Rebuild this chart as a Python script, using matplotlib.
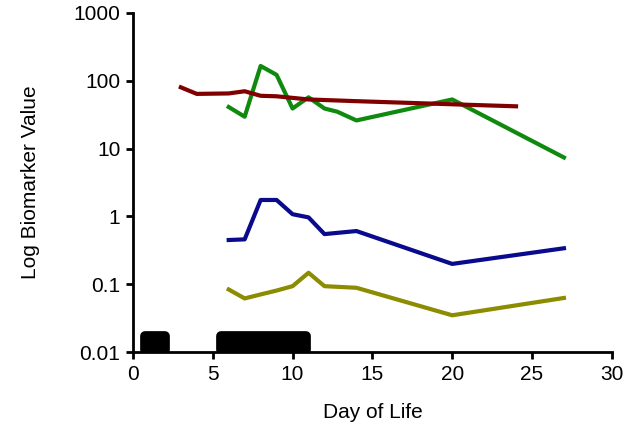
import matplotlib
matplotlib.use("Agg")
import matplotlib.pyplot as plt
import numpy as np

plt.rcParams['font.family'] = ['Liberation Sans', 'DejaVu Sans']

# biomarker series (day of life, value)
red_days = [3, 4, 6, 7, 8, 9, 11, 14, 20, 24]
red_vals = [80, 64, 65, 70, 60, 59, 53, 50, 45, 42]

green_days = [6, 7, 8, 9, 10, 11, 12, 12.8, 14, 20, 27]
green_vals = [41, 29.5, 165, 122, 39, 57, 39, 35, 26, 53, 7.4]

blue_days = [6, 7, 8, 9, 10, 11, 12, 14, 20, 27]
blue_vals = [0.45, 0.46, 1.75, 1.75, 1.08, 0.97, 0.55, 0.61, 0.20, 0.34]

olive_days = [6, 7, 8, 9, 10, 11, 12, 14, 20, 27]
olive_vals = [0.084, 0.062, 0.071, 0.081, 0.094, 0.148, 0.094, 0.089, 0.035, 0.063]

# treatment periods (start day, duration)
treat_periods = [(0.75, 1.25), (5.5, 5.35)]

fig = plt.figure(figsize=(6.36, 4.29), dpi=100)
ax = fig.add_axes([0.209, 0.179, 0.753, 0.791])

lw = 3.0
ax.plot(olive_days, olive_vals, '-', c='#8c8c00', lw=lw)
ax.plot(blue_days, blue_vals, '-', c='#0a0a8c', lw=lw)
ax.plot(green_days, green_vals, '-', c='#0f8a0f', lw=lw)
ax.plot(red_days, red_vals, '-', c='#800000', lw=lw)

ax.broken_barh(treat_periods, (0.0108, 0.0068), facecolor='black',
               edgecolor='black', linewidth=7, joinstyle='round')

ax.set_yscale('log')
ax.set_xlim(0, 30)
ax.set_ylim(0.01, 1000)
ax.set_xticks([0, 5, 10, 15, 20, 25, 30])
ax.set_yticks([0.01, 0.1, 1, 10, 100, 1000])
ax.set_yticklabels(['0.01', '0.1', '1', '10', '100', '1000'])
ax.minorticks_off()

for s in ['top', 'right']:
    ax.spines[s].set_visible(False)
for s in ['left', 'bottom']:
    ax.spines[s].set_linewidth(2)

ax.tick_params(direction='out', length=5, width=2, labelsize=15, pad=4)
ax.set_xlabel('Day of Life', fontsize=15, labelpad=14)
ax.set_ylabel('Log Biomarker Value', fontsize=15, labelpad=24)

fig.savefig('out.png', dpi=100)
